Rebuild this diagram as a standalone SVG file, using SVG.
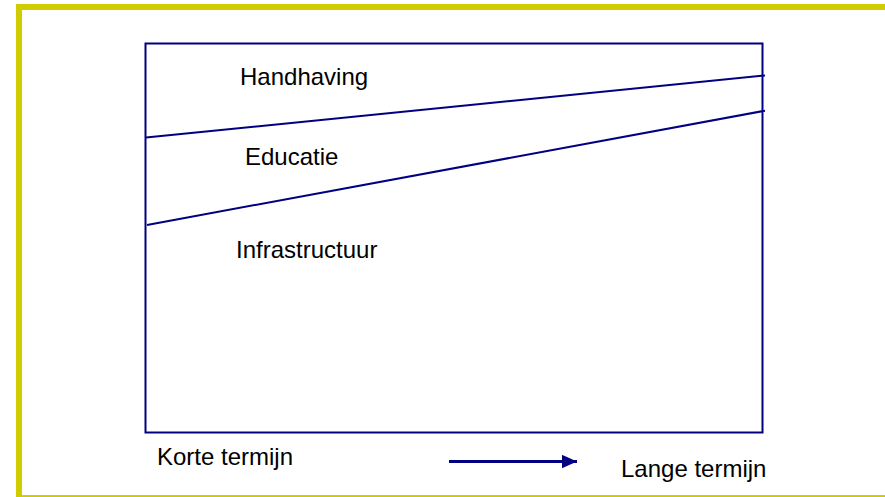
<svg xmlns="http://www.w3.org/2000/svg" width="885" height="497" viewBox="0 0 885 497">
<style>
.t{font-family:"Liberation Sans",Arial,sans-serif;font-size:24px;fill:#000}
.n{stroke:#000080;fill:none}
</style>
<defs>
<marker id="ah" markerUnits="userSpaceOnUse" markerWidth="16" markerHeight="14" refX="15" refY="7" orient="auto">
<path d="M0,0.3 L15,7 L0,13.7 Z" fill="#000080"/>
</marker>
</defs>
<rect x="0" y="0" width="885" height="497" fill="#fff"/>
<rect x="19" y="7" width="900" height="491" fill="none" stroke="#D0CC00" stroke-width="6"/>
<g id="chart">
<rect class="n" x="145.5" y="43.5" width="617" height="389" stroke-width="2"/>
</g>
<g id="connectors">
<line class="n" x1="146" y1="137.5" x2="765" y2="75.5" stroke-width="2"/>
<line class="n" x1="147" y1="225" x2="765" y2="110.7" stroke-width="2"/>
<line class="n" x1="449" y1="461.5" x2="577" y2="461.5" stroke-width="3" marker-end="url(#ah)"/>
</g>
<g id="labels">
<text class="t" x="240" y="85">Handhaving</text>
<text class="t" x="245" y="165">Educatie</text>
<text class="t" x="236" y="258">Infrastructuur</text>
<text class="t" x="157" y="465">Korte termijn</text>
<text class="t" x="621" y="477">Lange termijn</text>
</g>
</svg>
